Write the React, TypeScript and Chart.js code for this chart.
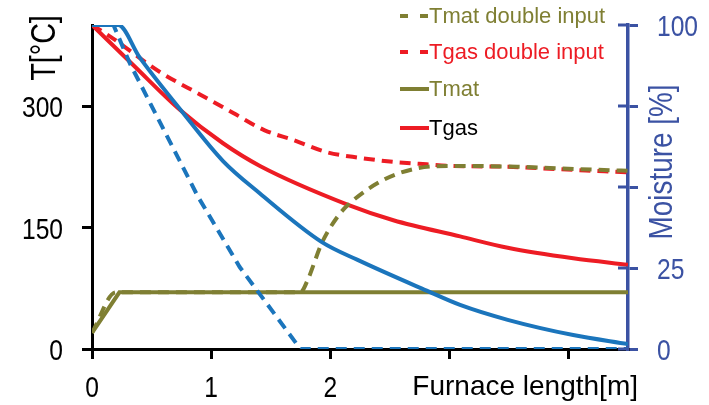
import { useEffect, useRef } from 'react';
import { Chart, registerables } from 'chart.js';

Chart.register(...registerables);

// ---- data (x in m, temperatures in °C, moisture in %) ----
const tgasX = [0, 0.35, 0.74, 1.1, 1.41, 2.15, 2.53, 3.09, 3.49, 4.04, 4.5];
const tgasY = [400, 350, 295, 254, 226, 178, 159, 139, 125, 112, 104];

const tgasDblX = [0, 0.15, 0.57, 0.91, 1.19, 1.45, 1.69, 1.97, 2.25, 2.53, 2.81, 3.03, 3.49, 3.91, 4.5];
const tgasDblY = [400, 386, 342, 314, 291, 270, 258, 243, 236, 231, 228, 226, 225, 222, 218];

const tmatX = [0, 0.23, 4.5];
const tmatY = [20, 70, 70];

const tmatDblX = [0, 0.2, 1.75, 1.81, 1.93, 2.06, 2.15, 2.45, 2.73, 3.03, 3.57, 4.1, 4.5];
const tmatDblY = [20, 70, 70, 85, 131, 163, 178, 209, 223, 226, 225, 222, 220];

const moistX = [0, 0.22, 0.4, 0.74, 1.1, 1.41, 1.93, 2.23, 2.81, 3.09, 3.49, 4.04, 4.5];
const moistY = [100, 100, 90, 74, 58, 48, 33, 27.5, 18, 13.6, 9, 4.3, 1.5];

const moistDblX = [0, 0.18, 0.32, 0.89, 1.24, 1.75, 4.5];
const moistDblY = [100, 100, 88, 47, 25.3, 0, 0];

const leftTicks = [0, 150, 300];
const leftTickLabels = ['0', '150', '300'];
const rightTicks = [0, 25, 50, 75, 100];
const rightTickLabels = ['0', '25', '', '', '100'];
const xTicks = [0, 1, 2, 3, 4];
const xTickLabels = ['0', '1', '2', '', ''];

const legendLabels = ['Tmat double input', 'Tgas double input', 'Tmat', 'Tgas'];

// ---- styles ----
const RED = '#ED1C24';
const OLIVE = '#7F7F33';
const BLUE = '#1B75BC';
const AXIS_BLUE = '#3B52A3';
const REG = "'Liberation Sans', Arial, sans-serif";
const SQUEEZE = 0.82; // narrow (Arial Narrow-like) lettering

const legendStyles = [
  { color: OLIVE, text: OLIVE, dash: true },
  { color: RED, text: RED, dash: true },
  { color: OLIVE, text: OLIVE, dash: false },
  { color: RED, text: '#000000', dash: false },
];

const pts = (xs: number[], ys: number[]) => xs.map((x, i) => ({ x, y: ys[i] }));

function narrowText(ctx: any, text: string, x: number, y: number, align: 'left' | 'right' | 'center', rotate = false) {
  ctx.save();
  ctx.translate(x, y);
  if (rotate) ctx.rotate(-Math.PI / 2);
  ctx.scale(SQUEEZE, 1);
  ctx.textAlign = align;
  ctx.fillText(text, 0, 0);
  ctx.restore();
}

const decorPlugin = {
  id: 'decor',
  afterDraw(chart: any) {
    const { ctx, scales } = chart;
    const { x: xs, y: ys, y1 } = scales;
    ctx.save();
    // inner half of the right-axis ticks
    ctx.strokeStyle = AXIS_BLUE;
    ctx.lineWidth = 3;
    rightTicks.forEach((v) => {
      const py = y1.getPixelForValue(v);
      ctx.beginPath();
      ctx.moveTo(y1.left - 10, py);
      ctx.lineTo(y1.left, py);
      ctx.stroke();
    });

    // tick labels (narrow lettering) placed by the chart's scales
    ctx.textBaseline = 'alphabetic';
    ctx.font = `30px ${REG}`;
    ctx.fillStyle = '#000';
    leftTicks.forEach((v, i) => {
      narrowText(ctx, leftTickLabels[i], ys.right - 29, ys.getPixelForValue(v) + 11, 'right');
    });
    xTicks.forEach((v, i) => {
      if (xTickLabels[i]) narrowText(ctx, xTickLabels[i], xs.getPixelForValue(v), xs.top + 48, 'center');
    });
    ctx.fillStyle = AXIS_BLUE;
    rightTicks.forEach((v, i) => {
      if (rightTickLabels[i]) narrowText(ctx, rightTickLabels[i], y1.left + 29, y1.getPixelForValue(v) + 11, 'left');
    });

    // axis titles
    ctx.textBaseline = 'middle';
    ctx.fillStyle = '#000';
    ctx.font = `35px ${REG}`;
    narrowText(ctx, 'T[°C]', 45, 48, 'center', true);

    ctx.fillStyle = AXIS_BLUE;
    ctx.font = `34px ${REG}`;
    narrowText(ctx, 'Moisture [%]', 663, 162, 'center', true);

    ctx.fillStyle = '#000';
    ctx.font = `28px ${REG}`;
    ctx.textAlign = 'right';
    ctx.textBaseline = 'alphabetic';
    ctx.fillText('Furnace length[m]', 638, 395);

    // legend
    const rows = [16, 52, 89, 128];
    ctx.font = `22px ${REG}`;
    ctx.textAlign = 'left';
    ctx.textBaseline = 'middle';
    legendLabels.forEach((lab, i) => {
      const st = legendStyles[i];
      const y = rows[i];
      ctx.strokeStyle = st.color;
      ctx.lineWidth = 4;
      ctx.setLineDash(st.dash ? [8, 12] : []);
      ctx.beginPath();
      ctx.moveTo(400, y);
      ctx.lineTo(429, y);
      ctx.stroke();
      ctx.setLineDash([]);
      ctx.fillStyle = st.text;
      ctx.fillText(lab, 429, y + 1);
    });
    ctx.restore();
  },
};

export default function App() {
  const ref = useRef<HTMLCanvasElement | null>(null);

  useEffect(() => {
    if (!ref.current) return;
    const dash = [11, 7];
    const chart = new Chart(ref.current, {
      type: 'line',
      data: {
        datasets: [
          { label: 'Moisture double input', data: pts(moistDblX, moistDblY), yAxisID: 'y1', borderColor: BLUE, borderWidth: 4, borderDash: dash, tension: 0, pointRadius: 0 },
          { label: 'Moisture', data: pts(moistX, moistY), yAxisID: 'y1', borderColor: BLUE, borderWidth: 4, cubicInterpolationMode: 'monotone', pointRadius: 0 },
          { label: 'Tmat', data: pts(tmatX, tmatY), yAxisID: 'y', borderColor: OLIVE, borderWidth: 4, tension: 0, pointRadius: 0 },
          { label: 'Tmat double input', data: pts(tmatDblX, tmatDblY), yAxisID: 'y', borderColor: OLIVE, borderWidth: 4, borderDash: dash, cubicInterpolationMode: 'monotone', pointRadius: 0 },
          { label: 'Tgas', data: pts(tgasX, tgasY), yAxisID: 'y', borderColor: RED, borderWidth: 4, cubicInterpolationMode: 'monotone', pointRadius: 0 },
          { label: 'Tgas double input', data: pts(tgasDblX, tgasDblY), yAxisID: 'y', borderColor: RED, borderWidth: 4, borderDash: dash, cubicInterpolationMode: 'monotone', pointRadius: 0 },
        ],
      },
      options: {
        responsive: false,
        animation: false,
        devicePixelRatio: 1,
        layout: { padding: { top: 25, left: 0, right: 0, bottom: 0 } },
        plugins: { legend: { display: false }, tooltip: { enabled: false } },
        scales: {
          x: {
            type: 'linear',
            min: 0,
            max: 4.5,
            afterBuildTicks: (s: any) => { s.ticks = xTicks.map((v) => ({ value: v })); },
            afterFit: (s: any) => { s.height = 56; },
            border: { display: true, color: '#000', width: 3 },
            grid: { drawOnChartArea: false, drawTicks: true, tickLength: 10, color: '#000', lineWidth: 3 },
            ticks: { display: false },
          },
          y: {
            type: 'linear',
            position: 'left',
            min: 0,
            max: 400,
            afterBuildTicks: (s: any) => { s.ticks = leftTicks.map((v) => ({ value: v })); },
            afterFit: (s: any) => { s.width = 92; },
            border: { display: true, color: '#000', width: 3 },
            grid: { drawOnChartArea: false, drawTicks: true, tickLength: 10, color: '#000', lineWidth: 3 },
            ticks: { display: false },
          },
          y1: {
            type: 'linear',
            position: 'right',
            min: 0,
            max: 100,
            afterBuildTicks: (s: any) => { s.ticks = rightTicks.map((v) => ({ value: v })); },
            afterFit: (s: any) => { s.width = 81; },
            border: { display: true, color: AXIS_BLUE, width: 3.5 },
            grid: { drawOnChartArea: false, drawTicks: true, tickLength: 10, color: AXIS_BLUE, lineWidth: 3 },
            ticks: { display: false },
          },
        },
      },
      plugins: [decorPlugin],
    } as any);
    return () => chart.destroy();
  }, []);

  return (
    <div style={{ position: 'absolute', left: 0, top: 0, width: 709, height: 405, background: '#fff' }}>
      <canvas ref={ref} width={709} height={405} style={{ width: 709, height: 405, display: 'block' }} />
    </div>
  );
}
